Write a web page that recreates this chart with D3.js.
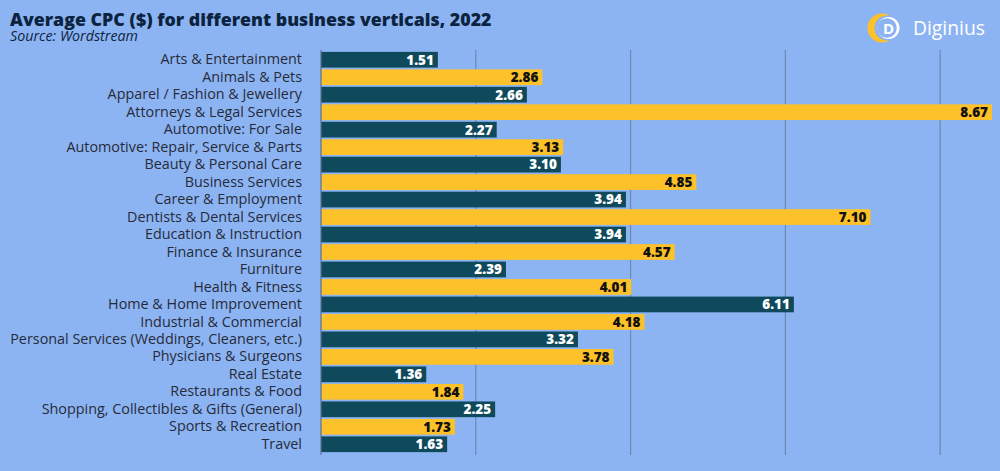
<!DOCTYPE html>
<html><head><meta charset="utf-8">
<script src="https://cdn.jsdelivr.net/npm/d3@7"></script>
<style>html,body{margin:0;padding:0;background:#8db4f2;}svg{display:block}</style>
</head><body>
<script>
const categories = ["Arts & Entertainment","Animals & Pets","Apparel / Fashion & Jewellery","Attorneys & Legal Services","Automotive: For Sale","Automotive: Repair, Service & Parts","Beauty & Personal Care","Business Services","Career & Employment","Dentists & Dental Services","Education & Instruction","Finance & Insurance","Furniture","Health & Fitness","Home & Home Improvement","Industrial & Commercial","Personal Services (Weddings, Cleaners, etc.)","Physicians & Surgeons","Real Estate","Restaurants & Food","Shopping, Collectibles & Gifts (General)","Sports & Recreation","Travel"];
const values = [1.51,2.86,2.66,8.67,2.27,3.13,3.10,4.85,3.94,7.10,3.94,4.57,2.39,4.01,6.11,4.18,3.32,3.78,1.36,1.84,2.25,1.73,1.63];
const gridTicks = [2,4,6,8];
const title = "Average CPC ($) for different business verticals, 2022";
const subtitle = "Source: Wordstream";

const W=1000,H=471,BG="#8db4f2";
const font="'Open Sans', 'DejaVu Sans', sans-serif";
const svg=d3.select("body").append("svg").attr("width",W).attr("height",H);
svg.append("rect").attr("width",W).attr("height",H).attr("fill",BG);

function fitWidth(sel, target){
  const w=sel.node().getComputedTextLength();
  const fs=parseFloat(sel.attr("font-size"));
  sel.attr("font-size",fs*target/w);
}

const x=d3.scaleLinear().domain([0,8.67]).range([321,992]);
const y=d3.scaleBand().domain(categories).range([51,453]).paddingInner(0.1).paddingOuter(0.05);

// gridlines
svg.append("g").selectAll("line").data(gridTicks).join("line")
 .attr("x1",d=>x(d)).attr("x2",d=>x(d)).attr("y1",50).attr("y2",455)
 .attr("stroke","#6e87b3").attr("stroke-width",1.2);

// bars
const colors=["#0e4a5c","#fdc12a"];
svg.append("g").selectAll("rect").data(values).join("rect")
 .attr("x",x(0)).attr("y",(d,i)=>y(categories[i]))
 .attr("width",d=>x(d)-x(0)).attr("height",y.bandwidth())
 .attr("fill",(d,i)=>colors[i%2]);

// axis line
svg.append("line").attr("x1",x(0)).attr("x2",x(0)).attr("y1",50).attr("y2",455)
 .attr("stroke","#5a6f93").attr("stroke-width",1.2);

// value labels
svg.append("g").selectAll("text").data(values).join("text")
 .attr("x",d=>x(d)-4).attr("y",(d,i)=>y(categories[i])+y.bandwidth()/2)
 .attr("dy","0.36em").attr("text-anchor","end")
 .attr("font-family",font).attr("font-weight",800).attr("font-size",13.5)
 .attr("fill",(d,i)=>i%2?"#111":"#fff").text(d=>d.toFixed(2));

// category labels
const yAxis=d3.axisLeft(y).tickSize(0).tickPadding(19);
const ga=svg.append("g").attr("transform",`translate(${x(0)},0)`).call(yAxis);
ga.select(".domain").remove();
const labs=ga.selectAll("text").attr("font-family",font).attr("font-size",13).attr("fill","#262b3a");
let maxW=0; labs.each(function(){maxW=Math.max(maxW,this.getComputedTextLength());});
labs.attr("font-size",13*292/maxW);

// title
const t=svg.append("text").attr("x",10).attr("y",26).attr("font-family",font).attr("font-weight",800)
 .attr("font-size",20).attr("fill","#0c2340").text(title);
fitWidth(t,482);
const s=svg.append("text").attr("x",10).attr("y",41).attr("font-family",font).attr("font-style","italic")
 .attr("font-size",13).attr("fill","#0c2340").text(subtitle);
fitWidth(s,128);

// logo
const lg=svg.append("g").attr("transform","translate(882,28)");
lg.append("circle").attr("r",14.5).attr("fill","#fdc12a");
lg.append("circle").attr("cx",5).attr("r",12.5).attr("fill",BG);
lg.append("circle").attr("cx",6.5).attr("r",11).attr("fill","#fff");
lg.append("circle").attr("cx",5).attr("r",9.8).attr("fill",BG);
lg.append("text").attr("x",6.5).attr("y",0.5).attr("dy","0.36em").attr("text-anchor","middle")
 .attr("font-family",font).attr("font-weight",700).attr("font-size",15).attr("fill","#fff").text("D");
const lt=svg.append("text").attr("x",913).attr("y",35).attr("font-family",font).attr("font-size",20)
 .attr("fill","#fff").text("Diginius");
fitWidth(lt,72);
</script>
</body></html>
